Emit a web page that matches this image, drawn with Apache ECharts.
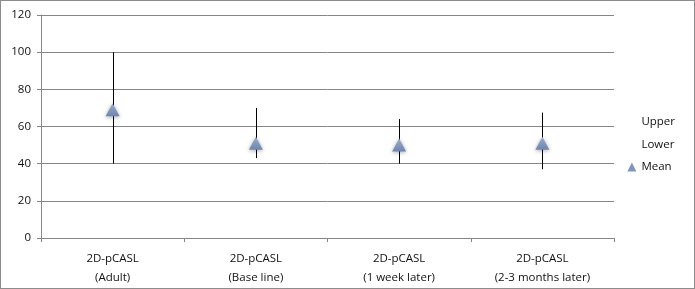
<!DOCTYPE html>
<html>
<head>
<meta charset="utf-8">
<script src="https://cdn.jsdelivr.net/npm/echarts@6/dist/echarts.min.js"></script>
<style>
  html, body { margin: 0; padding: 0; background: #fff; }
  #chart { width: 693px; height: 287px; border: 1px solid #8c8c8c; }
</style>
</head>
<body>
<div id="chart"></div>
<script>
var categories = ['2D-pCASL\n(Adult)', '2D-pCASL\n(Base line)', '2D-pCASL\n(1 week later)', '2D-pCASL\n(2-3 months later)'];
var upper = [100, 70, 64, 67.5];
var lower = [40, 43, 40, 37];
var mean = [69, 51, 50, 51];
var yTicks = [0, 20, 40, 60, 80, 100, 120];

var font = '"Open Sans", "Noto Sans", sans-serif';
var chart = echarts.init(document.getElementById('chart'));

// high-low line for each category, from lower to upper
var hiLo = categories.map(function (c, i) { return [i, lower[i], upper[i]]; });

chart.setOption({
  animation: false,
  grid: { left: 40, right: 80, top: 14, bottom: 50 },
  legend: {
    orient: 'vertical',
    right: 14,
    top: 110,
    itemGap: 10.5,
    itemWidth: 9,
    itemHeight: 9,
    textStyle: { fontFamily: font, fontSize: 11.5, color: '#111' },
    data: [
      { name: 'Upper', icon: 'rect', itemStyle: { opacity: 0 } },
      { name: 'Lower', icon: 'rect', itemStyle: { opacity: 0 } },
      { name: 'Mean', icon: 'triangle', itemStyle: { color: '#8196bc' } }
    ]
  },
  xAxis: {
    type: 'category',
    data: categories,
    boundaryGap: true,
    axisLine: { lineStyle: { color: '#868686' } },
    axisTick: { show: true, length: 4, lineStyle: { color: '#868686' } },
    axisLabel: { fontFamily: font, fontSize: 11.5, color: '#111', lineHeight: 19, margin: 11 }
  },
  yAxis: {
    type: 'value',
    min: yTicks[0],
    max: yTicks[yTicks.length - 1],
    interval: 20,
    axisLine: { show: true, lineStyle: { color: '#868686' } },
    axisTick: { show: true, length: 4, lineStyle: { color: '#868686' } },
    axisLabel: { fontFamily: font, fontSize: 11.5, color: '#111', margin: 10 },
    splitLine: { lineStyle: { color: '#868686' } }
  },
  series: [
    {
      name: 'Upper',
      type: 'line',
      data: upper,
      symbol: 'none',
      lineStyle: { width: 0 },
      silent: true
    },
    {
      name: 'Lower',
      type: 'line',
      data: lower,
      symbol: 'none',
      lineStyle: { width: 0 },
      silent: true
    },
    {
      name: 'HighLow',
      type: 'custom',
      data: hiLo,
      renderItem: function (params, api) {
        var lo = api.coord([api.value(0), api.value(1)]);
        var hi = api.coord([api.value(0), api.value(2)]);
        return {
          type: 'line',
          shape: { x1: Math.round(lo[0]) + 0.5, y1: lo[1], x2: Math.round(hi[0]) + 0.5, y2: hi[1] },
          style: { stroke: '#000', lineWidth: 1 }
        };
      },
      z: 3
    },
    {
      name: 'Mean',
      type: 'line',
      data: mean,
      lineStyle: { width: 0 },
      symbol: 'triangle',
      symbolSize: [14, 13],
      itemStyle: {
        color: new echarts.graphic.LinearGradient(0, 0, 0, 1, [
          { offset: 0, color: '#9aadcf' },
          { offset: 1, color: '#6f85ad' }
        ]),
        shadowBlur: 4,
        shadowColor: 'rgba(0,0,0,0.35)',
        shadowOffsetY: 1
      },
      z: 4
    }
  ]
});
</script>
</body>
</html>
